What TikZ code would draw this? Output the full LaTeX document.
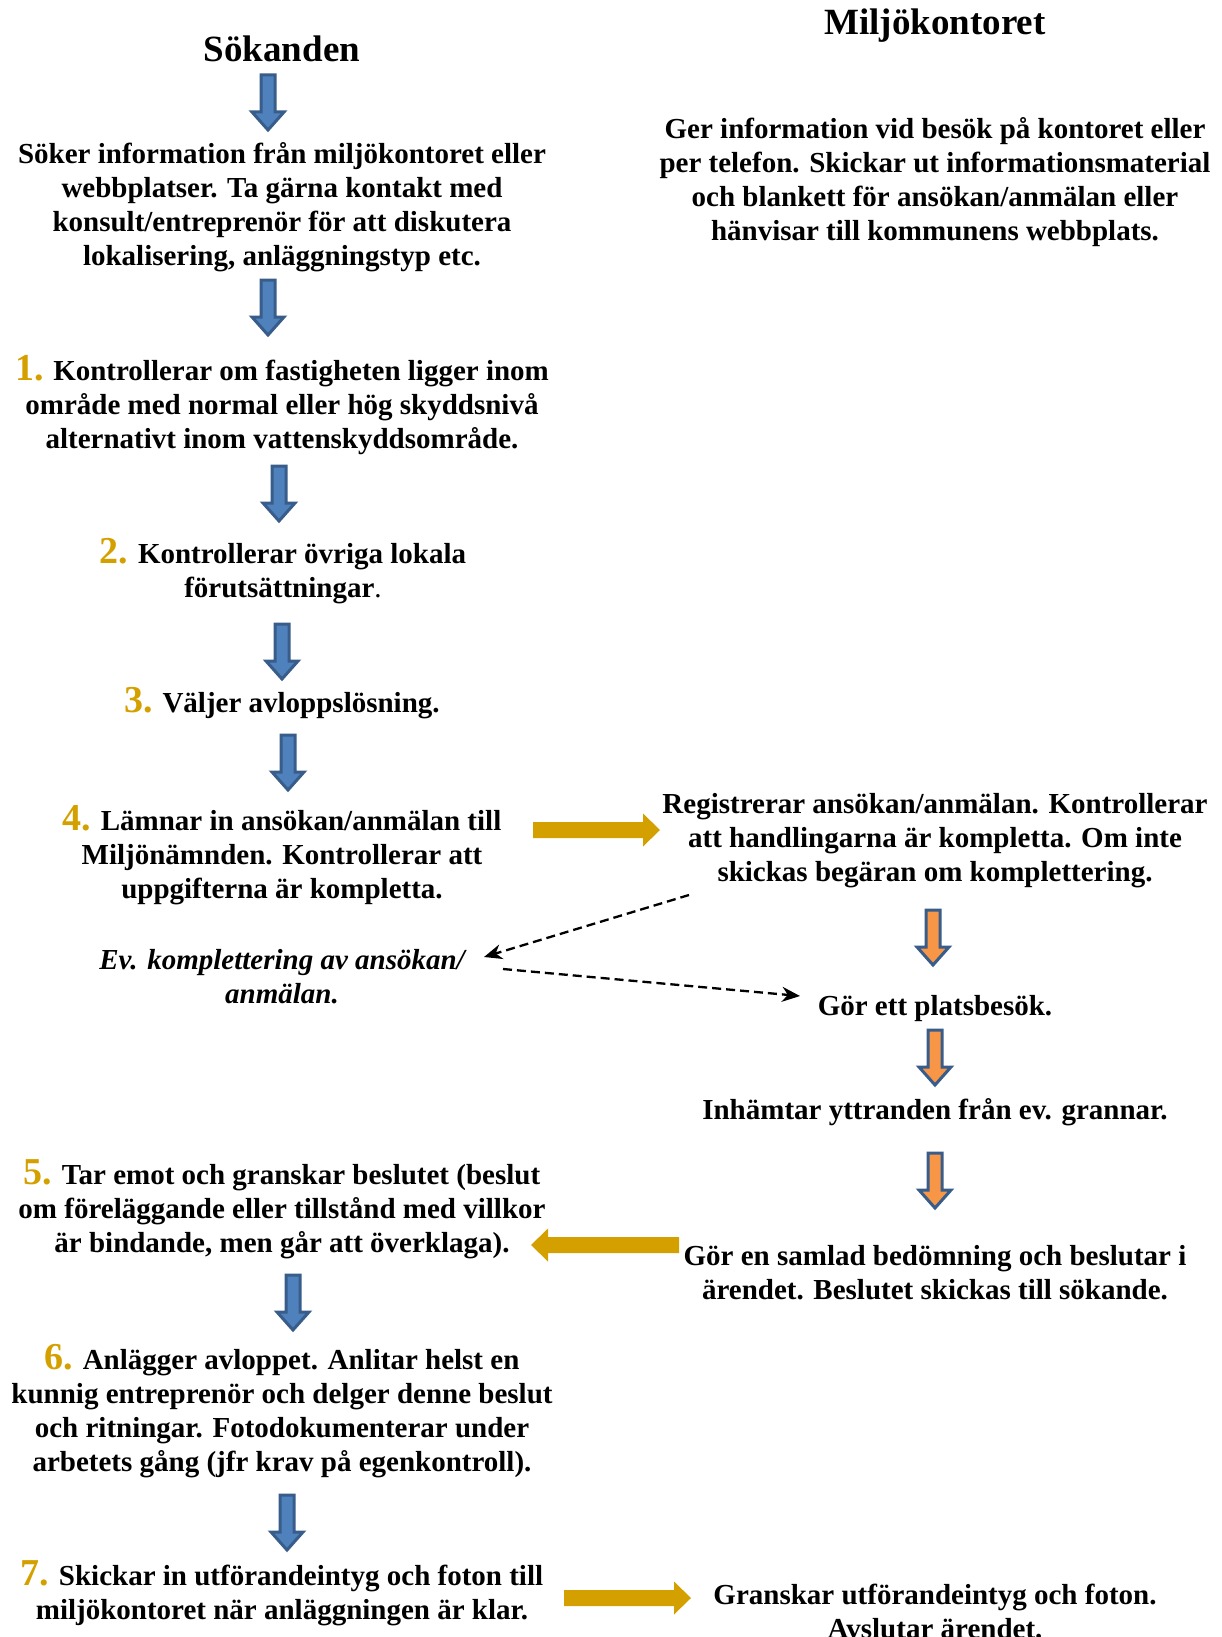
\documentclass[tikz,border=0pt]{standalone}
\usepackage{fontspec}
\setmainfont{Liberation Serif}
\usetikzlibrary{arrows.meta}
\definecolor{gold}{RGB}{212,160,0}
\definecolor{bfill}{RGB}{79,129,189}
\definecolor{bline}{RGB}{56,93,138}
\definecolor{ofill}{RGB}{247,150,70}
\newcommand\stepno[1]{{\color{gold}\fontsize{38}{34}\selectfont #1}}
\tikzset{
  txt/.style={font=\fontsize{29}{34}\selectfont\bfseries, align=center, inner sep=0pt},
  head/.style={font=\fontsize{37}{40}\selectfont\bfseries, inner sep=0pt},
  pics/vdown/.style={code={\draw[line width=3pt, draw=bline, fill=#1, line join=miter]
     (-7,0) -- (-7,37) -- (-16,37) -- (0,55) -- (16,37) -- (7,37) -- (7,0) -- cycle;}},
  pics/hright/.style={code={\fill[gold]
     (0,-8) -- ({#1-17},-8) -- ({#1-17},-16.5) -- (#1,0) -- ({#1-17},16.5) -- ({#1-17},8) -- (0,8) -- cycle;}},
  dasharrow/.style={line width=2.3pt, dash pattern=on 9pt off 5pt, -{Stealth[length=18pt,width=15pt]}},
}
\begin{document}
\begin{tikzpicture}[x=1pt,y=-1pt]
\useasboundingbox (0,0) rectangle (1222,1637);
% headings
\node[head] (hs) at (282,49) {Sökanden};
\node[head] (hm) at (935,26) {Miljökontoret};
% left column
\node[txt] (s0) at (282,207) {Söker information från miljökontoret eller\\webbplatser. Ta gärna kontakt med\\konsult/entreprenör för att diskutera\\lokalisering, anläggningstyp etc.};
\node[txt] (s1) at (282,405) {\stepno{1.} Kontrollerar om fastigheten ligger inom\\område med normal eller hög skyddsnivå\\alternativt inom vattenskyddsområde.};
\node[txt] (s2) at (283,571) {\stepno{2.} Kontrollerar övriga lokala\\förutsättningar{\mdseries .}};
\node[txt] (s3) at (282,703) {\stepno{3.} Väljer avloppslösning.};
\node[txt] (s4) at (282,855) {\stepno{4.} Lämnar in ansökan/anmälan till\\Miljönämnden. Kontrollerar att\\uppgifterna är kompletta.};
\node[txt, font=\fontsize{29}{34}\selectfont\bfseries\itshape] (ev) at (282,977) {Ev. komplettering av ansökan/\\anmälan.};
\node[txt] (s5) at (282,1209) {\stepno{5.} Tar emot och granskar beslutet (beslut\\om föreläggande eller tillstånd med villkor\\är bindande, men går att överklaga).};
\node[txt] (s6) at (282,1411) {\stepno{6.} Anlägger avloppet. Anlitar helst en\\kunnig entreprenör och delger denne beslut\\och ritningar. Fotodokumenterar under\\arbetets gång (jfr krav på egenkontroll).};
\node[txt] (s7) at (282,1593) {\stepno{7.} Skickar in utförandeintyg och foton till\\miljökontoret när anläggningen är klar.};
% right column
\node[txt] (r0) at (935,182) {Ger information vid besök på kontoret eller\\per telefon. Skickar ut informationsmaterial\\och blankett för ansökan/anmälan eller\\hänvisar till kommunens webbplats.};
\node[txt] (r4) at (935,841) {Registrerar ansökan/anmälan. Kontrollerar\\att handlingarna är kompletta. Om inte\\skickas begäran om komplettering.};
\node[txt] (r5) at (935,1009) {Gör ett platsbesök.};
\node[txt] (r6) at (935,1112) {Inhämtar yttranden från ev. grannar.};
\node[txt] (r7) at (935,1273) {Gör en samlad bedömning och beslutar i\\ärendet. Beslutet skickas till sökande.};
\node[txt] (r8) at (935,1611) {Granskar utförandeintyg och foton.\\Avslutar ärendet.};
% blue block arrows
\pic at (268,75) {vdown=bfill};
\pic at (268,280) {vdown=bfill};
\pic at (279,466) {vdown=bfill};
\pic at (282,624) {vdown=bfill};
\pic at (288,735) {vdown=bfill};
\pic at (293,1275) {vdown=bfill};
\pic at (287,1495) {vdown=bfill};
% orange block arrows
\pic at (933,910) {vdown=ofill};
\pic at (935,1030) {vdown=ofill};
\pic at (935,1153) {vdown=ofill};
% gold horizontal arrows
\pic at (533,830) {hright=127};
\pic[xscale=-1] at (679,1245) {hright=148};
\pic at (564,1598) {hright=127};
% dashed arrows
\coordinate (d1s) at (689,895);
\coordinate (d1e) at (484,957);
\coordinate (d2s) at (503,969);
\coordinate (d2e) at (800,996);
\draw[dasharrow] (d1s) -- (d1e);
\draw[dasharrow] (d2s) -- (d2e);
\end{tikzpicture}
\end{document}
